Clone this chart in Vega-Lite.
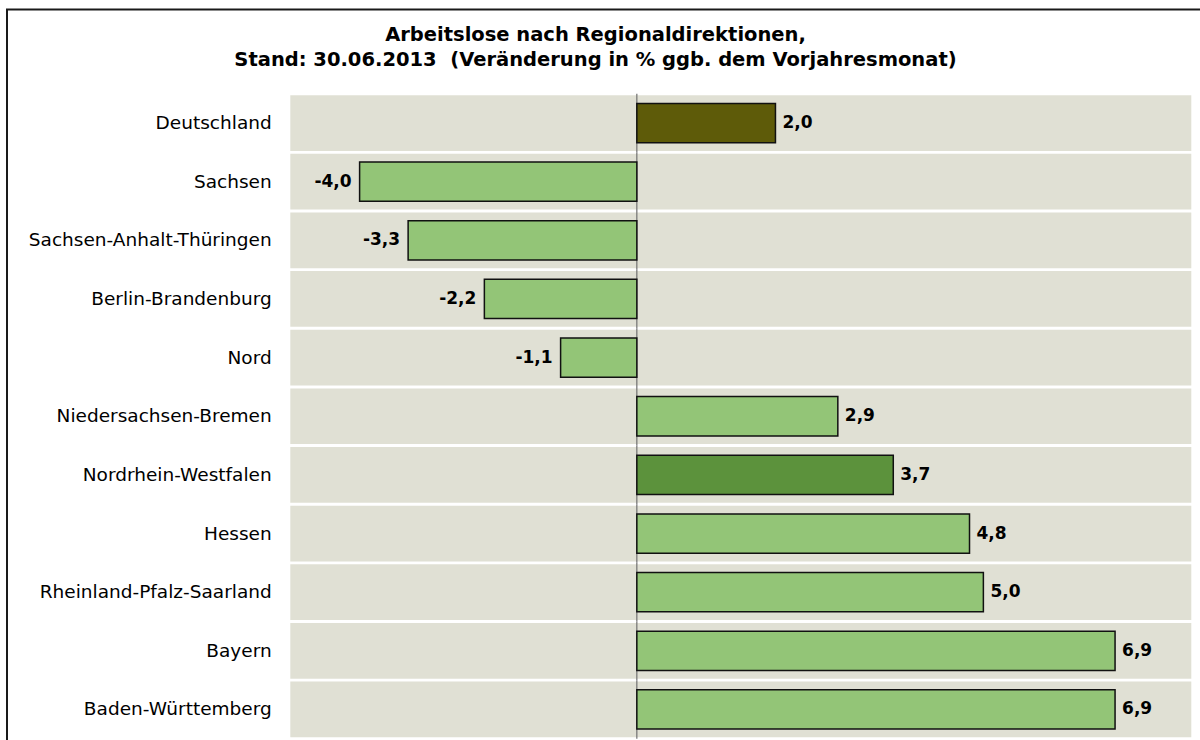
{
  "$schema": "https://vega.github.io/schema/vega-lite/v6.json",
  "autosize": "none",
  "padding": {"left": 7, "top": 9.5, "right": 0, "bottom": 0},
  "width": 1193,
  "height": 730.5,
  "background": "white",
  "view": {"stroke": "#1a1a1a", "strokeWidth": 2, "fill": "white", "strokeDash": [1193, 1923.5, 740]},
  "title": {
    "text": ["Arbeitslose nach Regionaldirektionen,", "Stand: 30.06.2013\u00a0 (Veränderung in % ggb. dem Vorjahresmonat)"],
    "font": "DejaVu Sans",
    "fontSize": 19.5,
    "fontWeight": "bold",
    "color": "#000000",
    "lineHeight": 25.5,
    "anchor": "middle",
    "frame": "group",
    "baseline": "alphabetic",
    "offset": 0,
    "dx": -8,
    "dy": 76
  },
  "data": {
    "values": [
      {"region": "Deutschland", "wert": 2.0, "kategorie": "Deutschland"},
      {"region": "Sachsen", "wert": -4.0, "kategorie": "Regionaldirektion"},
      {"region": "Sachsen-Anhalt-Thüringen", "wert": -3.3, "kategorie": "Regionaldirektion"},
      {"region": "Berlin-Brandenburg", "wert": -2.2, "kategorie": "Regionaldirektion"},
      {"region": "Nord", "wert": -1.1, "kategorie": "Regionaldirektion"},
      {"region": "Niedersachsen-Bremen", "wert": 2.9, "kategorie": "Regionaldirektion"},
      {"region": "Nordrhein-Westfalen", "wert": 3.7, "kategorie": "NRW"},
      {"region": "Hessen", "wert": 4.8, "kategorie": "Regionaldirektion"},
      {"region": "Rheinland-Pfalz-Saarland", "wert": 5.0, "kategorie": "Regionaldirektion"},
      {"region": "Bayern", "wert": 6.9, "kategorie": "Regionaldirektion"},
      {"region": "Baden-Württemberg", "wert": 6.9, "kategorie": "Regionaldirektion"}
    ]
  },
  "encoding": {
    "y": {
      "field": "region",
      "type": "nominal",
      "sort": null,
      "scale": {"range": [84.2, 729.3], "paddingInner": 0, "paddingOuter": 0},
      "axis": null
    }
  },
  "layer": [
    {
      "mark": {"type": "bar", "fill": "#E0E0D4", "height": {"band": 0.95}},
      "encoding": {
        "x": {"datum": -5, "type": "quantitative", "scale": {"domain": [-5, 8], "range": [283.3, 1184.3], "nice": false, "zero": false}, "axis": null},
        "x2": {"datum": 8}
      }
    },
    {
      "mark": {"type": "rect", "fill": null, "stroke": "#707070", "strokeWidth": 1.2},
      "encoding": {
        "x": {"datum": 0, "type": "quantitative"},
        "x2": {"datum": 0}
      }
    },
    {
      "mark": {"type": "bar", "stroke": "#111111", "strokeWidth": 1.5, "height": {"band": 0.67}},
      "encoding": {
        "x": {"field": "wert", "type": "quantitative"},
        "x2": {"datum": 0},
        "color": {
          "field": "kategorie",
          "type": "nominal",
          "scale": {"domain": ["Deutschland", "NRW", "Regionaldirektion"], "range": ["#5E5B09", "#5C923C", "#93C577"]},
          "legend": null
        }
      }
    },
    {
      "transform": [{"filter": "datum.wert >= 0"}],
      "mark": {"type": "text", "align": "left", "baseline": "middle", "dx": 7, "font": "DejaVu Sans", "fontSize": 17, "fontWeight": "bold", "color": "#000000"},
      "encoding": {
        "x": {"field": "wert", "type": "quantitative"},
        "text": {"field": "wert", "type": "quantitative", "format": ".1f"}
      }
    },
    {
      "transform": [{"filter": "datum.wert < 0"}],
      "mark": {"type": "text", "align": "right", "baseline": "middle", "dx": -8, "font": "DejaVu Sans", "fontSize": 17, "fontWeight": "bold", "color": "#000000"},
      "encoding": {
        "x": {"field": "wert", "type": "quantitative"},
        "text": {"field": "wert", "type": "quantitative", "format": ".1f"}
      }
    },
    {
      "mark": {"type": "text", "align": "right", "baseline": "middle", "dx": -18.6, "font": "DejaVu Sans", "fontSize": 18.5, "color": "#000000"},
      "encoding": {
        "x": {"datum": -5, "type": "quantitative"},
        "text": {"field": "region", "type": "nominal"}
      }
    }
  ],
  "config": {
    "locale": {
      "number": {"decimal": ",", "thousands": ".", "grouping": [3], "currency": ["", " €"], "minus": "-"}
    }
  }
}
